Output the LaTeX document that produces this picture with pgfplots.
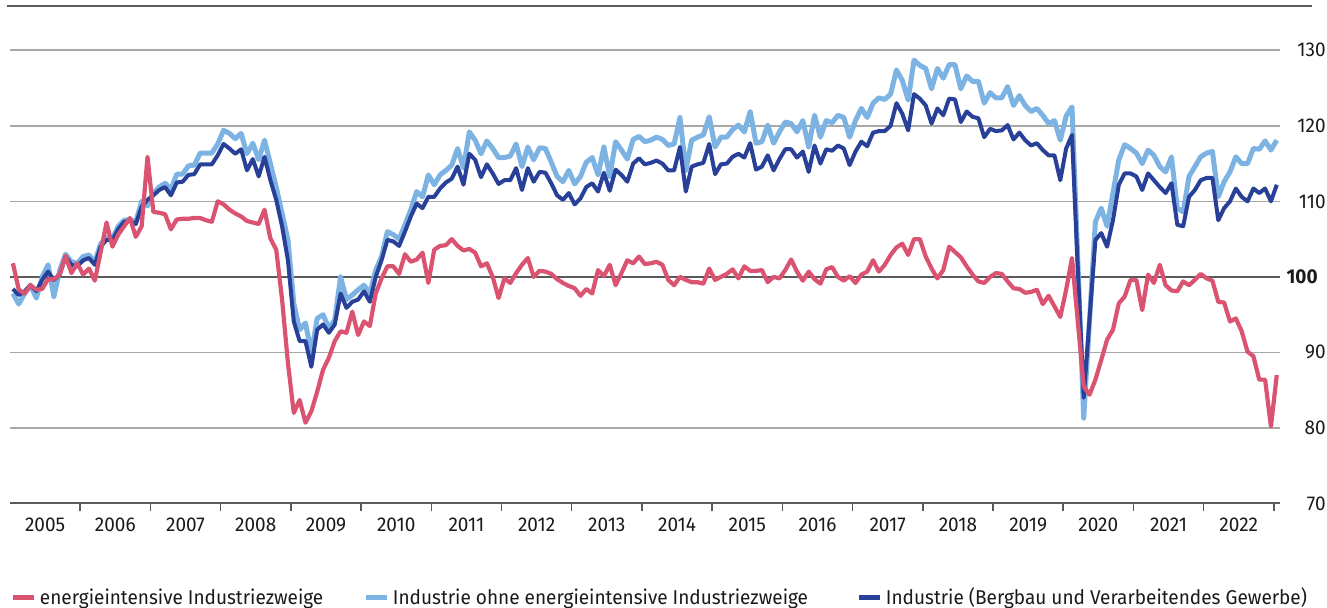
\documentclass[border=0pt]{standalone}
\usepackage{fontspec}
\setmainfont{Fira Sans}[Numbers=Proportional, FakeStretch=0.95]
\usepackage{pgfplots}
\usepackage{pgfplotstable}
\pgfplotsset{compat=1.18}
\definecolor{cR}{HTML}{DA5471}
\definecolor{cL}{HTML}{7DB3E3}
\definecolor{cD}{HTML}{284098}
\definecolor{cGrid}{HTML}{A8A8A8}
\definecolor{cDark}{HTML}{5A5A5A}
\definecolor{cTxt}{HTML}{1A1A1A}
\pgfplotstableread{
i R L D
0 101.8 97.8 98.4
1 98.3 96.4 97.6
2 97.8 97.8 98.1
3 98.9 98.9 98.9
4 98.3 97.2 98.1
5 98.4 100.0 99.6
6 99.7 101.6 100.7
7 99.7 97.4 99.6
8 100.3 100.9 100.3
9 102.8 103.0 102.7
10 100.5 102.0 101.6
11 101.8 101.8 101.4
12 100.3 102.7 102.2
13 101.1 102.9 102.5
14 99.5 102.0 101.6
15 103.3 104.4 104.0
16 107.2 105.2 104.9
17 104.0 105.1 104.9
18 105.6 106.7 106.3
19 106.7 107.5 107.3
20 107.8 107.6 107.4
21 105.3 107.3 107.0
22 106.7 110.0 109.3
23 115.9 109.4 110.2
24 108.6 111.1 110.8
25 108.5 111.9 111.5
26 108.3 112.4 111.9
27 106.3 111.6 110.8
28 107.6 113.6 112.5
29 107.7 113.6 112.6
30 107.7 114.7 113.5
31 107.8 114.8 113.6
32 107.8 116.4 114.9
33 107.5 116.4 114.9
34 107.3 116.4 114.9
35 110.0 117.6 116.1
36 109.6 119.4 117.6
37 108.9 119.0 117.0
38 108.4 118.3 116.3
39 108.0 119.0 116.9
40 107.4 116.3 114.1
41 107.2 117.7 115.6
42 107.0 115.5 113.3
43 108.9 118.1 115.9
44 105.1 115.0 112.8
45 103.6 111.9 110.2
46 97.0 108.4 106.7
47 88.6 104.9 102.2
48 82.0 96.5 94.1
49 83.7 93.0 91.5
50 80.7 93.9 91.5
51 82.2 89.9 88.1
52 84.8 94.5 93.0
53 87.7 95.0 93.7
54 89.3 93.2 92.6
55 91.5 94.3 93.7
56 92.8 100.0 97.8
57 92.6 97.0 95.9
58 95.4 97.6 96.7
59 92.3 98.3 97.0
60 94.1 98.9 98.1
61 93.5 97.8 96.7
62 97.8 100.9 100.0
63 99.8 102.7 102.2
64 101.4 106.0 104.9
65 101.4 105.6 104.7
66 100.4 105.0 104.1
67 103.0 106.9 106.0
68 102.0 108.9 108.0
69 102.3 111.3 109.7
70 103.2 110.6 109.1
71 99.2 113.5 110.6
72 103.6 112.2 110.6
73 104.1 113.5 111.7
74 104.2 114.1 112.5
75 105.0 114.8 113.0
76 104.1 117.0 114.6
77 103.5 114.4 112.2
78 103.7 119.2 116.3
79 103.2 118.1 115.5
80 101.4 116.3 113.2
81 101.8 118.0 114.9
82 100.0 117.0 113.7
83 97.2 115.8 112.3
84 99.8 115.8 112.8
85 99.2 116.0 112.8
86 100.5 117.6 114.4
87 101.6 114.6 111.5
88 102.5 117.2 114.4
89 100.0 115.5 112.6
90 100.8 117.1 113.9
91 100.7 117.0 113.8
92 100.4 115.2 112.4
93 99.7 113.3 110.8
94 99.2 112.6 110.2
95 98.8 114.1 111.1
96 98.5 112.3 109.6
97 97.5 113.3 110.4
98 98.4 115.2 111.9
99 97.8 115.8 112.4
100 100.9 113.5 111.3
101 100.1 117.2 113.8
102 101.6 113.3 111.4
103 98.9 117.9 114.2
104 100.5 116.8 113.5
105 102.2 115.6 112.6
106 101.8 118.2 115.0
107 102.7 118.6 115.7
108 101.7 117.9 114.9
109 101.8 118.1 115.1
110 102.0 118.5 115.4
111 101.6 118.2 115.0
112 99.6 117.4 114.1
113 98.9 117.6 114.1
114 100.0 121.1 117.2
115 99.6 114.1 111.3
116 99.3 118.1 114.6
117 99.3 118.5 114.9
118 99.1 118.8 115.1
119 101.1 121.2 117.6
120 99.6 117.2 113.6
121 100.0 118.5 114.9
122 100.4 118.5 115.0
123 101.0 119.5 115.9
124 99.8 120.1 116.3
125 101.4 119.2 115.8
126 100.8 121.9 117.7
127 100.8 117.7 114.2
128 100.9 117.9 114.6
129 99.3 120.1 116.1
130 100.0 117.7 114.1
131 99.8 119.2 115.6
132 100.9 120.5 116.9
133 102.3 120.3 116.9
134 100.7 119.2 115.8
135 99.5 120.7 116.6
136 100.7 117.2 113.9
137 99.7 121.4 117.4
138 99.1 118.5 115.0
139 101.0 120.7 116.9
140 101.3 120.4 116.7
141 100.0 121.4 117.4
142 99.5 121.1 117.0
143 100.1 118.5 114.8
144 99.2 120.7 116.6
145 100.3 122.3 117.9
146 100.7 121.1 117.3
147 102.2 123.0 119.1
148 100.7 123.7 119.3
149 101.6 123.5 119.3
150 102.9 124.2 120.0
151 103.9 127.4 123.0
152 104.4 126.0 121.6
153 102.9 123.4 119.4
154 105.0 128.7 124.2
155 105.0 128.0 123.6
156 102.7 127.6 122.7
157 101.1 124.9 120.3
158 99.8 127.6 122.3
159 100.9 126.3 121.4
160 104.0 128.1 123.6
161 103.3 128.1 123.5
162 102.6 124.9 120.5
163 101.4 126.6 121.9
164 100.3 125.9 121.2
165 99.4 125.9 121.0
166 99.2 123.0 118.5
167 100.0 124.4 119.6
168 100.5 123.7 119.3
169 100.4 123.7 119.4
170 99.4 125.2 120.1
171 98.5 122.7 118.2
172 98.4 124.0 119.1
173 97.9 122.7 118.1
174 98.0 121.9 117.4
175 98.3 122.3 117.7
176 96.4 121.4 116.8
177 97.5 120.3 116.1
178 96.1 120.7 116.1
179 94.7 118.1 112.8
180 98.3 121.3 117.0
181 102.5 122.5 118.8
182 94.0 102.0 101.0
183 85.5 81.3 84.0
184 84.4 94.3 94.5
185 86.4 107.3 104.9
186 89.0 109.1 105.8
187 91.7 106.7 104.0
188 93.0 111.1 107.5
189 96.5 115.5 112.2
190 97.4 117.5 113.7
191 99.6 117.0 113.7
192 99.6 116.4 113.3
193 95.6 115.0 111.5
194 100.3 116.8 113.7
195 99.2 116.1 112.8
196 101.6 114.6 111.9
197 98.9 113.9 111.1
198 98.2 115.9 112.4
199 98.1 109.1 106.9
200 99.4 108.6 106.7
201 98.9 113.3 110.6
202 99.6 114.6 111.5
203 100.4 115.9 112.8
204 99.8 116.4 113.1
205 99.5 116.6 113.1
206 96.7 110.6 107.5
207 96.6 112.6 109.1
208 94.1 113.9 110.0
209 94.5 115.9 111.7
210 92.8 115.0 110.6
211 90.1 115.0 110.0
212 89.5 117.0 111.7
213 86.4 116.9 111.1
214 86.4 118.0 111.7
215 80.2 116.8 110.0
216 87.0 118.1 112.2
}\datatable
\begin{document}
\begin{tikzpicture}
\useasboundingbox (0,0) rectangle (663.5pt,304pt);
\begin{axis}[
  at={(5pt,52.25pt)}, anchor=south west,
  scale only axis, width=634.85pt, height=226.6pt,
  xmin=-0.5, xmax=216.5, ymin=70, ymax=130,
  axis x line*=bottom, axis y line*=right,
  x axis line style={draw=cDark, line width=1pt, -},
  y axis line style={draw=none},
  tick align=outside, major tick length=4pt,
  xtick={11.5,23.5,...,215.5}, xticklabels={},
  xtick style={draw=cDark, line width=0.75pt},
  extra x ticks={5.5,17.5,...,209.5},
  extra x tick labels={2005,2006,2007,2008,2009,2010,2011,2012,2013,2014,2015,2016,2017,2018,2019,2020,2021,2022},
  extra x tick style={major tick length=0pt},
  ytick={70,80,90,110,120,130},
  yticklabels={70,80,90,110,120,130},
  ytick style={draw=none},
  extra y ticks={100}, extra y tick labels={\textbf{100}},
  extra y tick style={major tick length=0pt, grid style={draw=cDark, line width=1pt}},
  ymajorgrids, grid style={draw=cGrid, line width=0.85pt},
  yticklabel pos=right,
  yticklabel style={anchor=east, xshift=19.15pt, inner sep=0pt},
  xticklabel style={anchor=center, yshift=-10.75pt, inner sep=0pt},
  tick label style={font=\fontsize{10pt}{12pt}\selectfont, text=cTxt},
  clip=false,
  legend columns=3,
  legend style={at={(axis description cs:0,-0.2085)}, anchor=west, draw=none, fill=none,
    inner sep=0pt, outer sep=0pt, font=\fontsize{10pt}{12pt}\selectfont, text=cTxt,
    /tikz/every odd column/.style={column sep=2pt},
    /tikz/every even column/.style={column sep=0pt},
    nodes={inner sep=0pt}},
  legend image code/.code={\draw[#1, line width=2.5pt, line cap=butt] (0pt,0pt) -- (10.5pt,0pt);},
]
\addlegendimage{cR}
\addlegendentry{\makebox[161.5pt][l]{energieintensive Industriezweige}}
\addlegendimage{cL}
\addlegendentry{\makebox[231.5pt][l]{Industrie ohne energieintensive Industriezweige}}
\addlegendimage{cD}
\addlegendentry{Industrie (Bergbau und Verarbeitendes Gewerbe)}
\addplot[cL, line width=2.5pt, line join=round, forget plot] table[x=i, y=L] {\datatable};
\addplot[cD, line width=2pt, line join=round, forget plot] table[x=i, y=D] {\datatable};
\addplot[cR, line width=2.1pt, line join=round, forget plot] table[x=i, y=R] {\datatable};
\draw[cDark, line width=1pt] (axis cs:-1.0,135.9) -- (axis cs:222.1,135.9);
\end{axis}
\end{tikzpicture}
\end{document}
